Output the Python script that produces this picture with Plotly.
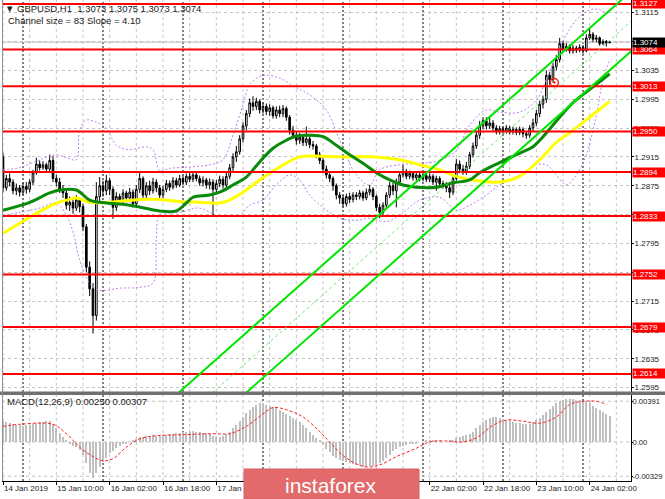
import plotly.graph_objects as go

# ---------------- data ----------------
symbol_text = "\u25bc GBPUSD,H1  1.3073 1.3075 1.3073 1.3074"
channel_text = "Channel size = 83 Slope = 4.10"
macd_text = "MACD(12,26,9) 0.00250 0.00307"

first_open = 1.2915
closes = [
    1.2872, 1.2885, 1.2880, 1.2868, 1.2872, 1.2866, 1.2874, 1.2870, 1.2880, 1.2893,
    1.2905, 1.2900, 1.2904, 1.2898, 1.2910, 1.2885, 1.2880, 1.2870, 1.2865, 1.2848,
    1.2852, 1.2844, 1.2855, 1.2846, 1.2818, 1.2762, 1.2732, 1.2695, 1.2860, 1.2875,
    1.2868, 1.2882, 1.2870, 1.2845, 1.2860, 1.2855, 1.2865, 1.2858, 1.2866, 1.2850,
    1.2870, 1.2885, 1.2862, 1.2875, 1.2868, 1.2880, 1.2872, 1.2862, 1.2870, 1.2878,
    1.2873, 1.2882, 1.2876, 1.2885, 1.2880, 1.2888, 1.2884, 1.2890, 1.2885, 1.2879,
    1.2883, 1.2876, 1.2880, 1.2870, 1.2878, 1.2884, 1.2876, 1.2888, 1.2900, 1.2915,
    1.2922, 1.2940, 1.2958, 1.2975, 1.2990, 1.2985, 1.2992, 1.2980, 1.2985, 1.2978,
    1.2983, 1.2972, 1.2980, 1.2975, 1.2982, 1.2970, 1.2952, 1.2945, 1.2938, 1.2942,
    1.2935, 1.2940, 1.2932, 1.2930, 1.2918, 1.2910, 1.2898, 1.2890, 1.2885, 1.2875,
    1.2862, 1.2858, 1.2850, 1.2860, 1.2856, 1.2862, 1.2860, 1.2865, 1.2858, 1.2866,
    1.2870, 1.2860, 1.2845, 1.2838, 1.2848, 1.2862, 1.2875, 1.2868, 1.2880, 1.2890,
    1.2895, 1.2888, 1.2892, 1.2886, 1.2890, 1.2885, 1.2889, 1.2884, 1.2888, 1.2880,
    1.2885, 1.2878, 1.2876, 1.2872, 1.2866, 1.2885, 1.2905, 1.2898, 1.2895, 1.2902,
    1.2918, 1.2930, 1.2945, 1.2958, 1.2965, 1.2958, 1.2962, 1.2955, 1.2950, 1.2954,
    1.2951, 1.2955, 1.2950, 1.2953, 1.2949, 1.2953, 1.2947, 1.2945, 1.2955, 1.2962,
    1.2975, 1.2988, 1.2995, 1.3028, 1.3022, 1.3040, 1.3050, 1.3072, 1.3065, 1.3068,
    1.3062, 1.3066, 1.3063, 1.3067, 1.3062, 1.3080, 1.3085, 1.3078, 1.3080, 1.3072,
    1.3075, 1.3073, 1.3074,
]
highs = [
    1.2921, 1.2890, 1.2892, 1.2884, 1.2878, 1.2876, 1.2879, 1.2880, 1.2884, 1.2897,
    1.2914, 1.2910, 1.2909, 1.2907, 1.2918, 1.2916, 1.2890, 1.2886, 1.2876, 1.2868,
    1.2860, 1.2856, 1.2862, 1.2858, 1.2850, 1.2822, 1.2770, 1.2740, 1.2880, 1.2887,
    1.2882, 1.2890, 1.2886, 1.2874, 1.2866, 1.2864, 1.2870, 1.2868, 1.2872, 1.2870,
    1.2876, 1.2893, 1.2888, 1.2880, 1.2882, 1.2886, 1.2884, 1.2876, 1.2875, 1.2883,
    1.2882, 1.2887, 1.2886, 1.2890, 1.2889, 1.2892, 1.2893, 1.2895, 1.2894, 1.2889,
    1.2888, 1.2886, 1.2885, 1.2884, 1.2883, 1.2889, 1.2888, 1.2893, 1.2905, 1.2920,
    1.2930, 1.2945, 1.2963, 1.2980, 1.2996, 1.2999, 1.2997, 1.2995, 1.2990, 1.2989,
    1.2988, 1.2986, 1.2985, 1.2986, 1.2987, 1.2985, 1.2973, 1.2958, 1.2950, 1.2948,
    1.2946, 1.2957, 1.2945, 1.2937, 1.2933, 1.2922, 1.2914, 1.2903, 1.2895, 1.2888,
    1.2878, 1.2866, 1.2862, 1.2864, 1.2865, 1.2866, 1.2866, 1.2869, 1.2868, 1.2871,
    1.2876, 1.2873, 1.2863, 1.2850, 1.2852, 1.2866, 1.2880, 1.2879, 1.2885, 1.2895,
    1.2905, 1.2898, 1.2896, 1.2895, 1.2894, 1.2893, 1.2893, 1.2892, 1.2892, 1.2891,
    1.2889, 1.2888, 1.2882, 1.2880, 1.2876, 1.2890, 1.2912, 1.2910, 1.2904, 1.2908,
    1.2922, 1.2935, 1.2950, 1.2965, 1.2970, 1.2970, 1.2972, 1.2966, 1.2959, 1.2958,
    1.2957, 1.2959, 1.2958, 1.2957, 1.2956, 1.2957, 1.2956, 1.2951, 1.2959, 1.2968,
    1.2980, 1.2993, 1.3000, 1.3035, 1.3033, 1.3045, 1.3056, 1.3080, 1.3076, 1.3073,
    1.3071, 1.3070, 1.3069, 1.3071, 1.3070, 1.3085, 1.3094, 1.3088, 1.3084, 1.3082,
    1.3078, 1.3077, 1.3075,
]
lows = [
    1.2866, 1.2868, 1.2874, 1.2863, 1.2862, 1.2860, 1.2862, 1.2864, 1.2866, 1.2876,
    1.2890, 1.2896, 1.2897, 1.2894, 1.2895, 1.2880, 1.2874, 1.2865, 1.2858, 1.2842,
    1.2840, 1.2836, 1.2840, 1.2838, 1.2812, 1.2755, 1.2722, 1.2670, 1.2688, 1.2852,
    1.2860, 1.2862, 1.2862, 1.2829, 1.2840, 1.2848, 1.2850, 1.2852, 1.2852, 1.2845,
    1.2846, 1.2865, 1.2856, 1.2858, 1.2862, 1.2864, 1.2866, 1.2855, 1.2858, 1.2866,
    1.2868, 1.2870, 1.2872, 1.2873, 1.2876, 1.2876, 1.2880, 1.2880, 1.2881, 1.2875,
    1.2874, 1.2871, 1.2870, 1.2834, 1.2865, 1.2873, 1.2871, 1.2872, 1.2884, 1.2895,
    1.2908, 1.2918, 1.2935, 1.2952, 1.2970, 1.2979, 1.2980, 1.2975, 1.2975, 1.2973,
    1.2972, 1.2968, 1.2968, 1.2970, 1.2970, 1.2965, 1.2946, 1.2940, 1.2932, 1.2933,
    1.2930, 1.2930, 1.2927, 1.2925, 1.2913, 1.2905, 1.2893, 1.2885, 1.2880, 1.2868,
    1.2856, 1.2850, 1.2845, 1.2846, 1.2851, 1.2852, 1.2855, 1.2856, 1.2854, 1.2855,
    1.2862, 1.2855, 1.2840, 1.2830, 1.2833, 1.2844, 1.2858, 1.2862, 1.2845, 1.2876,
    1.2886, 1.2884, 1.2884, 1.2882, 1.2882, 1.2881, 1.2881, 1.2880, 1.2880, 1.2876,
    1.2868, 1.2874, 1.2871, 1.2866, 1.2858, 1.2862, 1.2882, 1.2892, 1.2890, 1.2890,
    1.2898, 1.2914, 1.2926, 1.2940, 1.2953, 1.2953, 1.2954, 1.2950, 1.2946, 1.2946,
    1.2947, 1.2947, 1.2946, 1.2946, 1.2945, 1.2945, 1.2942, 1.2940, 1.2941, 1.2950,
    1.2958, 1.2970, 1.2982, 1.2990, 1.3015, 1.3018, 1.3035, 1.3046, 1.3060, 1.3061,
    1.3058, 1.3058, 1.3059, 1.3060, 1.3058, 1.3060, 1.3077, 1.3074, 1.3074, 1.3069,
    1.3070, 1.3068, 1.3073,
]
opens = [first_open] + closes[:-1]
bars = list(range(len(closes)))

macd_hist = [
    0.0020, 0.0019, 0.0018, 0.0017, 0.0016, 0.0016, 0.0015, 0.0016, 0.0016, 0.0017,
    0.0018, 0.0019, 0.0019, 0.0020, 0.0020, 0.0017, 0.0013, 0.0009, 0.0005, 0.0001,
    -0.0002, -0.0004, -0.0005, -0.0008, -0.0012, -0.0020, -0.0030, -0.0035, -0.0030, -0.0024,
    -0.0019, -0.0015, -0.0011, -0.0009, -0.0006, -0.0004, -0.0002, -0.0001, 0.0000, 0.0001,
    0.0003, 0.0005, 0.0005, 0.0006, 0.0006, 0.0007, 0.0006, 0.0006, 0.0007, 0.0007,
    0.0008, 0.0008, 0.0009, 0.0009, 0.0010, 0.0010, 0.0010, 0.0011, 0.0010, 0.0010,
    0.0009, 0.0009, 0.0008, 0.0006, 0.0005, 0.0005, 0.0006, 0.0008, 0.0010, 0.0013,
    0.0016, 0.0020, 0.0024, 0.0028, 0.0031, 0.0034, 0.0036, 0.0037, 0.0037, 0.0036,
    0.0035, 0.0034, 0.0033, 0.0031, 0.0029, 0.0027, 0.0025, 0.0023, 0.0021, 0.0019,
    0.0016, 0.0013, 0.0010, 0.0007, 0.0004, 0.0001, -0.0003, -0.0007, -0.0010, -0.0013,
    -0.0015, -0.0017, -0.0018, -0.0019, -0.0020, -0.0021, -0.0022, -0.0023, -0.0024, -0.0024,
    -0.0023, -0.0023, -0.0022, -0.0020, -0.0018, -0.0015, -0.0012, -0.0009, -0.0007, -0.0005,
    -0.0004, -0.0003, -0.0002, -0.0001, -0.0001, 0.0000, 0.0000, 0.0001, 0.0001, 0.0001,
    0.0001, 0.0001, 0.0000, 0.0000, 0.0001, 0.0002, 0.0004, 0.0005, 0.0006, 0.0007,
    0.0008, 0.0010, 0.0013, 0.0016, 0.0019, 0.0021, 0.0023, 0.0024, 0.0024, 0.0023,
    0.0022, 0.0021, 0.0020, 0.0019, 0.0018, 0.0018, 0.0017, 0.0017, 0.0017, 0.0019,
    0.0021, 0.0023, 0.0026, 0.0029, 0.0032, 0.0035, 0.0037, 0.0039, 0.0040, 0.0041,
    0.0041, 0.0041, 0.0040, 0.0040, 0.0039, 0.0038, 0.0037, 0.0035, 0.0033, 0.0031,
    0.0029, 0.0027, 0.0025,
]
signal_bars = [0, 5, 15, 19, 23, 27, 30, 33, 37, 41, 46, 54, 63, 68, 73, 78, 81, 85, 90, 95,
               98, 102, 106, 109, 113, 118, 124, 128, 133, 138, 142, 147, 151, 156, 161, 166,
               170, 174, 178, 181]
signal_vals = [0.0015, 0.0017, 0.0017, 0.0008, -0.0005, -0.0014, -0.0018, -0.0016, -0.0005,
               0.0003, 0.0006, 0.0007, 0.0008, 0.0008, 0.0015, 0.0027, 0.0033, 0.0031, 0.0024,
               0.0010, 0.0000, -0.0013, -0.0021, -0.0024, -0.0022, -0.0014, -0.0006, 0.0000,
               0.0001, 0.0000, 0.0004, 0.0016, 0.0021, 0.0020, 0.0018, 0.0024, 0.0036, 0.0039,
               0.0039, 0.0036]

ma_green_bars = [0, 8, 14, 17, 22, 26, 29, 38, 47, 52, 55, 57, 62, 65, 69, 73, 77, 81, 85, 88,
                 92, 96, 100, 104, 108, 112, 116, 120, 124, 130, 135, 140, 143, 149, 155, 159,
                 162, 167, 171, 175, 179, 182]
ma_green_vals = [1.2841, 1.2852, 1.2865, 1.2869, 1.2869, 1.2855, 1.2852, 1.2848, 1.2840, 1.2840,
                 1.2851, 1.2859, 1.2862, 1.2866, 1.2876, 1.2887, 1.2908, 1.2927, 1.2938, 1.2944,
                 1.2945, 1.2943, 1.2931, 1.2918, 1.2906, 1.2893, 1.2883, 1.2876, 1.2873, 1.2873,
                 1.2879, 1.2883, 1.2893, 1.2907, 1.2920, 1.2929, 1.2943, 1.2970, 1.2990, 1.3005,
                 1.3019, 1.3030]
ma_yellow_bars = [0, 5, 11, 16, 19, 22, 26, 32, 41, 47, 53, 59, 65, 68, 73, 77, 83, 89, 95, 101,
                  110, 119, 125, 131, 136, 141, 149, 155, 161, 166, 171, 176, 182]
ma_yellow_vals = [1.2809, 1.2823, 1.2839, 1.2851, 1.2855, 1.2858, 1.2852, 1.2852, 1.2856, 1.2856,
                  1.2853, 1.2852, 1.2851, 1.2855, 1.2869, 1.2883, 1.2901, 1.2915, 1.2916, 1.2915,
                  1.2915, 1.2911, 1.2904, 1.2897, 1.2888, 1.2883, 1.2880, 1.2888, 1.2911, 1.2935,
                  1.2952, 1.2970, 1.2992]

bb_up_bars = [0, 5, 11, 16, 19, 22, 23, 25, 28, 31, 34, 38, 43, 45, 47, 50, 56, 62, 66, 69, 72,
              74, 78, 83, 88, 92, 97, 101, 106, 110, 113, 119, 125, 131, 136, 140, 145, 149, 155,
              160, 163, 166, 169, 172, 176, 179, 182]
bb_up_vals = [1.2897, 1.2900, 1.2911, 1.2918, 1.2914, 1.2911, 1.2952, 1.2966, 1.2963, 1.2955,
              1.2931, 1.2925, 1.2929, 1.2925, 1.2896, 1.2899, 1.2901, 1.2904, 1.2911, 1.2945,
              1.2987, 1.3015, 1.3028, 1.3024, 1.3011, 1.3001, 1.2980, 1.2938, 1.2890, 1.2876,
              1.2897, 1.2904, 1.2906, 1.2910, 1.2924, 1.2959, 1.2980, 1.2977, 1.2977, 1.2994,
              1.3022, 1.3056, 1.3084, 1.3105, 1.3119, 1.3119, 1.3112]
bb_lo_bars = [0, 5, 11, 16, 19, 21, 23, 26, 29, 35, 41, 45, 46, 47, 53, 59, 64, 67, 71, 74, 78,
              82, 86, 89, 92, 97, 101, 106, 110, 115, 119, 125, 131, 136, 140, 145, 149, 155, 160,
              163, 166, 169, 172, 175, 178, 180, 182]
bb_lo_vals = [1.2834, 1.2838, 1.2844, 1.2851, 1.2834, 1.2811, 1.2772, 1.2740, 1.2730, 1.2733,
              1.2734, 1.2740, 1.2800, 1.2834, 1.2838, 1.2844, 1.2834, 1.2834, 1.2834, 1.2848,
              1.2855, 1.2876, 1.2890, 1.2883, 1.2862, 1.2841, 1.2830, 1.2827, 1.2830, 1.2825,
              1.2834, 1.2855, 1.2859, 1.2841, 1.2848, 1.2862, 1.2876, 1.2890, 1.2904, 1.2904,
              1.2890, 1.2876, 1.2890, 1.2918, 1.2973, 1.3022, 1.3049]

# regression channel: lower line end points, width (0.0083) and slope 0.00041 per bar
chan_bars = [40, 192]
chan_lower = [1.24529, 1.30761]
chan_size = 0.0083

stop_marker_bar = [165.4]
stop_marker_price = [1.3018]

levels = [1.3127, 1.3064, 1.3013, 1.2950, 1.2894, 1.2833, 1.2752, 1.2679, 1.2614]
last_price = 1.3074
price_ticks = [1.2595, 1.2635, 1.2675, 1.2715, 1.2755, 1.2795, 1.2835, 1.2875, 1.2915,
               1.2955, 1.2995, 1.3035, 1.3075, 1.3115]
price_tick_text = ["1.2595", "1.2635", "1.2675", "1.2715", "", "1.2795", "", "1.2875", "1.2915",
                   "1.2955", "1.2995", "1.3035", "", "1.3115"]
macd_ticks = [0.00391, 0.0, -0.00329]
macd_tick_text = ["0.00391", "0.00", "-0.00329"]
# labels under the logo (18 Jan 02:00, 18 Jan 18:00, 21 Jan 10:00) are hidden in the picture
time_label_bars = [0, 16, 32, 48, 64, 80, 96, 112, 128, 144, 160, 176]
time_labels = ["14 Jan 2019", "15 Jan 10:00", "16 Jan 02:00", "16 Jan 18:00", "17 Jan 10:00",
               "", "", "", "22 Jan 02:00", "22 Jan 18:00",
               "23 Jan 10:00", "24 Jan 02:00"]
day_start_bars = [6, 30, 54, 78, 102, 126, 150, 174]

# ---------------- layout geometry ----------------
W, H = 665, 499
ML, MR, MT, MB = 2, 34, 0, 18
PW, PH = W - ML - MR, H - MT - MB
MAIN_BOTTOM = 392
MACD_TOP = 395
FONT = "Liberation Sans"
TXT = "#202020"


def px(x):
    return (x - ML) / PW


def py(y):
    return 1 - (y - MT) / PH


fig = go.Figure()

fig.add_trace(go.Candlestick(
    x=bars, open=opens, high=highs, low=lows, close=closes,
    increasing=dict(line=dict(color="black", width=1), fillcolor="white"),
    decreasing=dict(line=dict(color="black", width=1), fillcolor="black"),
    whiskerwidth=0, hoverinfo="skip", xaxis="x", yaxis="y"))

fig.add_trace(go.Scatter(x=bb_up_bars, y=bb_up_vals, mode="lines",
                         line=dict(color="#c07ef0", width=1, dash="2px,2px", shape="spline"),
                         hoverinfo="skip", xaxis="x", yaxis="y"))
fig.add_trace(go.Scatter(x=bb_lo_bars, y=bb_lo_vals, mode="lines",
                         line=dict(color="#c07ef0", width=1, dash="2px,2px", shape="spline"),
                         hoverinfo="skip", xaxis="x", yaxis="y"))
fig.add_trace(go.Scatter(x=ma_yellow_bars, y=ma_yellow_vals, mode="lines",
                         line=dict(color="#ffff00", width=3, shape="spline"),
                         hoverinfo="skip", xaxis="x", yaxis="y"))
fig.add_trace(go.Scatter(x=ma_green_bars, y=ma_green_vals, mode="lines",
                         line=dict(color="#0a8a0a", width=3, shape="spline"),
                         hoverinfo="skip", xaxis="x", yaxis="y"))
fig.add_trace(go.Scatter(x=stop_marker_bar, y=stop_marker_price, mode="markers",
                         marker=dict(symbol="circle-open-dot", size=8, color="#ff2020",
                                     line=dict(width=1.5, color="#ff2020")),
                         hoverinfo="skip", xaxis="x", yaxis="y"))

fig.add_trace(go.Bar(x=bars, y=macd_hist, marker=dict(color="#c0c0c0", line=dict(width=0)),
                     width=0.62, hoverinfo="skip", xaxis="x", yaxis="y2"))
fig.add_trace(go.Scatter(x=signal_bars, y=signal_vals, mode="lines",
                         line=dict(color="#ff2020", width=1, dash="3px,2px", shape="spline"),
                         hoverinfo="skip", xaxis="x", yaxis="y2"))

shapes = []
for b in range(0, 189, 8):
    for yr in ("y domain", "y2 domain"):
        shapes.append(dict(type="line", xref="x", yref=yr, x0=b, x1=b, y0=0, y1=1,
                           line=dict(color="#c4c4c4", width=1, dash="3px,3px"), layer="below"))
for b in day_start_bars:
    for yr in ("y domain", "y2 domain"):
        shapes.append(dict(type="line", xref="x", yref=yr, x0=b, x1=b, y0=0, y1=1,
                           line=dict(color="#000000", width=1, dash="2px,2px"), layer="below"))
for v in macd_ticks:
    shapes.append(dict(type="line", xref="x domain", yref="y2", x0=0, x1=1, y0=v, y1=v,
                       line=dict(color="#c4c4c4", width=1, dash="3px,3px"), layer="below"))
shapes.append(dict(type="line", xref="x domain", yref="y", x0=0, x1=1, y0=last_price, y1=last_price,
                   line=dict(color="#c0c0c0", width=1), layer="below"))
for lv in levels:
    shapes.append(dict(type="line", xref="x domain", yref="y", x0=0, x1=1, y0=lv, y1=lv,
                       line=dict(color="#ff0000", width=2), layer="above"))
for off, dash in ((0.0, "solid"), (chan_size / 2, "3px,3px"), (chan_size, "solid")):
    shapes.append(dict(type="line", xref="x", yref="y",
                       x0=chan_bars[0], x1=chan_bars[1],
                       y0=chan_lower[0] + off, y1=chan_lower[1] + off,
                       line=dict(color="#00e600" if dash == "solid" else "#66ee66",
                                 width=2 if dash == "solid" else 1, dash=dash),
                       layer="above"))
shapes.append(dict(type="rect", xref="paper", yref="paper", x0=px(0), x1=px(W),
                   y0=py(MACD_TOP), y1=py(MAIN_BOTTOM - 0.5), fillcolor="#707070",
                   line=dict(width=0), layer="above"))
shapes.append(dict(type="line", xref="paper", yref="paper", x0=px(2.5), x1=px(2.5),
                   y0=py(481), y1=py(0), line=dict(color="#909090", width=1), layer="above"))
shapes.append(dict(type="rect", xref="paper", yref="paper", x0=px(244), x1=px(419),
                   y0=py(499), y1=py(469), fillcolor="#e26a6a",
                   line=dict(color="#d86060", width=1), layer="above"))

annotations = []
for lv in levels:
    annotations.append(dict(xref="paper", yref="y", x=1, y=lv, xanchor="left", yanchor="middle",
                            xshift=1, text=f"{lv:.4f}", showarrow=False, bgcolor="#ff0000",
                            font=dict(family=FONT, size=8, color="white"), width=33, height=9,
                            align="left", borderpad=0))
annotations.append(dict(xref="paper", yref="y", x=1, y=last_price, xanchor="left", yanchor="middle",
                        xshift=1, text=f"{last_price:.4f}", showarrow=False, bgcolor="#000000",
                        font=dict(family=FONT, size=8, color="white"), width=33, height=9,
                        align="left", borderpad=0))
annotations.append(dict(xref="paper", yref="paper", x=px(3), y=py(8), xanchor="left",
                        yanchor="middle", text=symbol_text, showarrow=False,
                        font=dict(family=FONT, size=9.5, color=TXT)))
annotations.append(dict(xref="paper", yref="paper", x=px(6), y=py(20), xanchor="left",
                        yanchor="middle", text=channel_text, showarrow=False,
                        font=dict(family=FONT, size=9.5, color=TXT)))
annotations.append(dict(xref="paper", yref="paper", x=px(5), y=py(401), xanchor="left",
                        yanchor="middle", text=macd_text, showarrow=False,
                        font=dict(family=FONT, size=9.5, color=TXT)))
annotations.append(dict(xref="paper", yref="paper", x=px(331), y=py(485), xanchor="center",
                        yanchor="middle", text="instaforex", showarrow=False,
                        font=dict(family=FONT, size=21, color="white")))

axis_font = dict(family=FONT, size=8, color=TXT)
fig.update_layout(
    width=W, height=H, margin=dict(l=ML, r=MR, t=MT, b=MB, autoexpand=False),
    paper_bgcolor="white", plot_bgcolor="white", showlegend=False,
    xaxis=dict(range=[-0.3, -0.3 + PW / 3.3333], anchor="y2", tickmode="array",
               tickvals=time_label_bars, ticktext=time_labels, automargin=False,
               ticklabelposition="outside right", ticks="outside", ticklen=3,
               tickangle=0, ticklabelstandoff=-1,
               tickcolor="black", showgrid=False, zeroline=False, showline=True,
               linecolor="black", linewidth=1, tickfont=axis_font,
               rangeslider=dict(visible=False), fixedrange=True),
    yaxis=dict(domain=[py(MAIN_BOTTOM), 1], range=[1.31325 - MAIN_BOTTOM / 7212, 1.31325],
               side="right", anchor="x", tickmode="array", tickvals=price_ticks,
               ticktext=price_tick_text, ticks="outside", ticklen=2, automargin=False,
               ticklabelstandoff=-1,
               tickcolor="black", showgrid=True, gridcolor="#c4c4c4", griddash="3px,3px",
               zeroline=False, showline=True, linecolor="black", linewidth=1,
               tickfont=axis_font, fixedrange=True),
    yaxis2=dict(domain=[0, py(MACD_TOP)], range=[-(481 - 442) * 0.000096, (442 - MACD_TOP) * 0.000096],
                side="right", anchor="x", tickmode="array", tickvals=macd_ticks, automargin=False,
                ticktext=macd_tick_text, ticks="outside", ticklen=1, tickcolor="black",
                ticklabelstandoff=-2,
                showgrid=False, zeroline=False, showline=True, linecolor="black", linewidth=1,
                tickfont=dict(family=FONT, size=7.6, color=TXT), fixedrange=True),
    shapes=shapes, annotations=annotations, bargap=0,
)

fig.write_html("out.html", config={"displayModeBar": False},
               post_script="document.body.style.margin='0px';")
